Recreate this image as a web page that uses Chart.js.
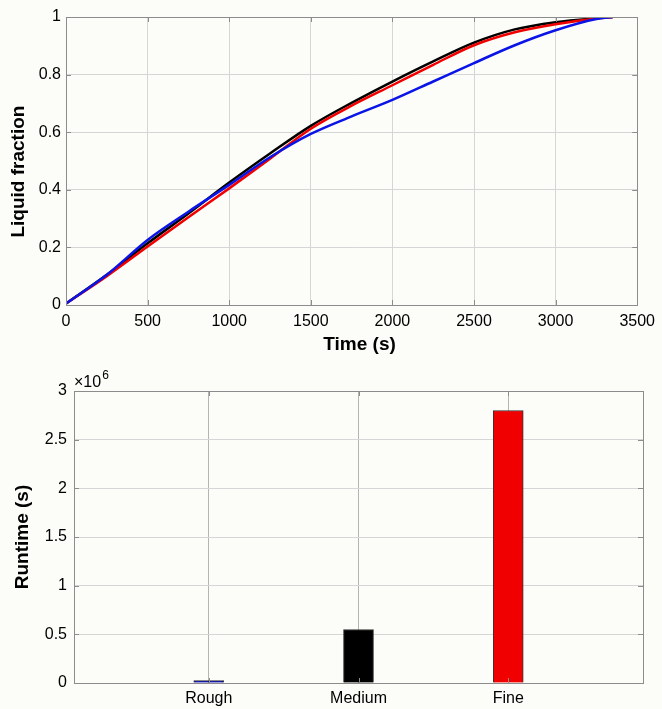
<!DOCTYPE html>
<html>
<head>
<meta charset="utf-8">
<script src="https://cdn.jsdelivr.net/npm/chart.js@4/dist/chart.umd.min.js"></script>
<style>
  body { margin: 0; background: #fcfcf8; }
  canvas { display: block; }
</style>
</head>
<body>
<canvas id="fractionChart" width="662" height="360"></canvas>
<canvas id="runtimeChart" width="662" height="349"></canvas>
<script>
// liquid fraction vs time
const times = [0, 250, 500, 750, 1000, 1250, 1500, 1750, 2000, 2250, 2500, 2750, 3000, 3250, 3350];
const fracBlue = [0.005, 0.105, 0.226, 0.324, 0.417, 0.513, 0.594, 0.655, 0.712, 0.776, 0.840, 0.902, 0.954, 0.993, 1.0];
const fracRed = [0.005, 0.100, 0.203, 0.305, 0.405, 0.508, 0.612, 0.692, 0.763, 0.834, 0.902, 0.947, 0.975, 0.995, 1.0];
const fracBlack = [0.005, 0.105, 0.214, 0.318, 0.425, 0.526, 0.622, 0.702, 0.776, 0.846, 0.911, 0.957, 0.982, 0.996, 1.0];

// runtime per mesh
const meshes = ['Rough', 'Medium', 'Fine'];
const runtimes = [0.025e6, 0.55e6, 2.8e6];
const barColors = ['#0000b4', '#000000', '#f00000'];

const FONT = "'Liberation Sans', Arial, sans-serif";
const gridColor = '#d6d6d6';
const boxColor = '#8c8c8c';

// matlab style box with inward tick marks
const framePlugin = {
    id: 'frame',
    afterDraw(chart) {
        const ctx = chart.ctx;
        const a = chart.chartArea;
        const xs = chart.scales.x, ys = chart.scales.y;
        ctx.save();
        ctx.strokeStyle = boxColor;
        ctx.lineWidth = 1;
        ctx.beginPath();
        xs.ticks.forEach(t => {
            const px = Math.round(xs.getPixelForValue(t.value)) + 0.5;
            ctx.moveTo(px, a.top); ctx.lineTo(px, a.top + 5);
            ctx.moveTo(px, a.bottom); ctx.lineTo(px, a.bottom - 5);
        });
        ys.ticks.forEach(t => {
            const py = Math.round(ys.getPixelForValue(t.value)) + 0.5;
            ctx.moveTo(a.left, py); ctx.lineTo(a.left + 5, py);
            ctx.moveTo(a.right, py); ctx.lineTo(a.right - 5, py);
        });
        ctx.stroke();
        ctx.strokeRect(Math.round(a.left) + 0.5, Math.round(a.top) + 0.5,
            Math.round(a.right - a.left), Math.round(a.bottom - a.top));
        ctx.restore();
    }
};

function makeLine(label, values, color) {
    return {
        label: label,
        data: times.map((t, i) => ({ x: t, y: values[i] })),
        borderColor: color,
        borderWidth: 2.5,
        pointRadius: 0,
        cubicInterpolationMode: 'monotone',
        fill: false
    };
}

new Chart(document.getElementById('fractionChart'), {
    type: 'line',
    data: {
        datasets: [
            makeLine('Rough', fracBlue, '#0a14e6'),
            makeLine('Fine', fracRed, '#f00000'),
            makeLine('Medium', fracBlack, '#000000')
        ]
    },
    options: {
        responsive: false,
        animation: false,
        layout: { padding: { top: 17, right: 21, left: 0, bottom: 0 } },
        plugins: { legend: { display: false }, tooltip: { enabled: false } },
        scales: {
            x: {
                type: 'linear',
                min: 0, max: 3500,
                afterFit: s => { s.height = 55; },
                ticks: { stepSize: 500, padding: 7, color: '#000', font: { family: FONT, size: 16 },
                         callback: v => String(v) },
                grid: { color: gridColor, drawTicks: false },
                border: { color: boxColor },
                title: { display: true, text: '   Time (s)', color: '#000', padding: { top: 0, bottom: 4 },
                         font: { family: FONT, size: 19, weight: 'bold' } }
            },
            y: {
                min: 0, max: 1,
                afterFit: s => { s.width = 66; },
                ticks: { stepSize: 0.2, padding: 5, color: '#000', font: { family: FONT, size: 16 },
                         callback: v => String(Math.round(v * 10) / 10) },
                grid: { color: gridColor, drawTicks: false },
                border: { color: boxColor },
                title: { display: true, text: 'Liquid fraction    ', color: '#000', padding: { top: 7, bottom: 0 },
                         font: { family: FONT, size: 19, weight: 'bold' } }
            }
        }
    },
    plugins: [framePlugin]
});

// the x10^6 multiplier over the runtime axis
const exponentPlugin = {
    id: 'exponent',
    afterDraw(chart) {
        const ctx = chart.ctx;
        const a = chart.chartArea;
        ctx.save();
        ctx.fillStyle = '#000';
        ctx.textBaseline = 'middle';
        ctx.font = '16px ' + FONT;
        ctx.fillText('\u00d710', a.left, a.top - 8);
        const w = ctx.measureText('\u00d710').width;
        ctx.font = '12px ' + FONT;
        ctx.fillText('6', a.left + w + 1, a.top - 15);
        ctx.restore();
    }
};

new Chart(document.getElementById('runtimeChart'), {
    type: 'bar',
    data: {
        datasets: [{
            label: 'Runtime',
            data: meshes.map((m, i) => ({ x: i + 1, y: runtimes[i] })),
            backgroundColor: barColors,
            borderColor: '#333',
            borderWidth: 1,
            barThickness: 30
        }]
    },
    options: {
        responsive: false,
        animation: false,
        layout: { padding: { top: 31, right: 19, left: 0, bottom: 0 } },
        plugins: { legend: { display: false }, tooltip: { enabled: false } },
        scales: {
            x: {
                type: 'linear',
                min: 0.1, max: 3.9,
                offset: false,
                afterFit: s => { s.height = 26; },
                afterBuildTicks: s => { s.ticks = meshes.map((m, i) => ({ value: i + 1 })); },
                ticks: { padding: 6, color: '#000', font: { family: FONT, size: 16 },
                         callback: v => meshes[v - 1] },
                grid: { color: '#b4b4b4', drawTicks: false, offset: false },
                border: { color: boxColor }
            },
            y: {
                min: 0, max: 3e6,
                afterFit: s => { s.width = 74; },
                ticks: { stepSize: 5e5, padding: 7, color: '#000', font: { family: FONT, size: 16 },
                         callback: v => String(v / 1e6) },
                grid: { color: gridColor, drawTicks: false },
                border: { color: boxColor },
                title: { display: true, text: 'Runtime (s)', color: '#000', padding: { top: 11, bottom: 0 },
                         font: { family: FONT, size: 19, weight: 'bold' } }
            }
        }
    },
    plugins: [framePlugin, exponentPlugin]
});
</script>
</body>
</html>
